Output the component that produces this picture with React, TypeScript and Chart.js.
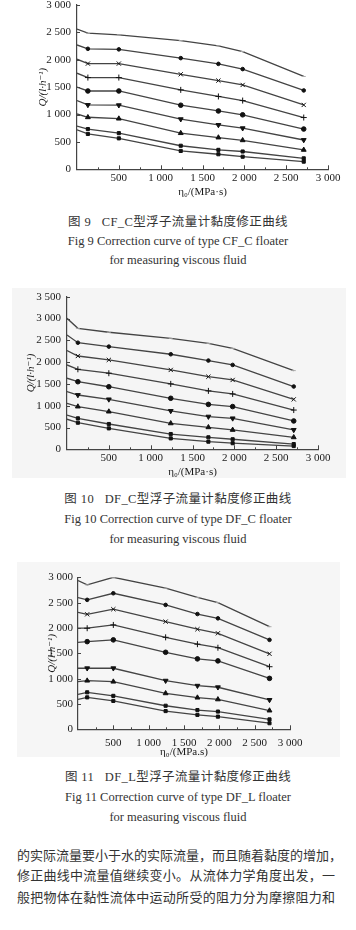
import React, { useEffect, useRef } from 'react';
import { Chart, registerables } from 'chart.js';

Chart.register(...registerables);

// Viscosity η0 (MPa·s) at which flow was measured
const VISCOSITY = [0, 130, 500, 1240, 1690, 1980, 2710];
const X_TICKS = [500, 1000, 1500, 2000, 2500, 3000];

// Fig 9 — CF_C floater, flow Q (l/h)
const CFC_S1 = [2560, 2485, 2455, 2350, 2255, 2150, 1695];
const CFC_S2 = [2270, 2200, 2190, 2030, 1925, 1830, 1440];
const CFC_S3 = [2010, 1930, 1930, 1735, 1620, 1540, 1175];
const CFC_S4 = [1755, 1675, 1675, 1450, 1330, 1255, 945];
const CFC_S5 = [1500, 1430, 1430, 1170, 1065, 995, 735];
const CFC_S6 = [1255, 1175, 1170, 915, 810, 750, 535];
const CFC_S7 = [1010, 950, 925, 660, 580, 530, 355];
const CFC_S8 = [790, 735, 660, 430, 355, 325, 200];
const CFC_S9 = [720, 645, 565, 335, 275, 230, 140];

// Fig 10 — DF_C floater
const DFC_S1 = [3005, 2775, 2685, 2545, 2430, 2315, 1805];
const DFC_S2 = [2620, 2445, 2355, 2180, 2035, 1935, 1440];
const DFC_S3 = [2265, 2140, 2050, 1820, 1665, 1590, 1145];
const DFC_S4 = [1935, 1835, 1745, 1500, 1340, 1270, 900];
const DFC_S5 = [1630, 1550, 1435, 1170, 1030, 980, 650];
const DFC_S6 = [1325, 1245, 1145, 880, 750, 710, 445];
const DFC_S7 = [1055, 980, 865, 595, 505, 445, 275];
const DFC_S8 = [785, 710, 580, 350, 275, 230, 120];
const DFC_S9 = [690, 610, 480, 250, 175, 140, 75];

// Fig 11 — DF_L floater
const DFL_S1 = [2935, 2850, 3000, 2785, 2605, 2500, 2025];
const DFL_S2 = [2600, 2555, 2685, 2455, 2275, 2190, 1765];
const DFL_S3 = [2310, 2270, 2370, 2125, 1975, 1895, 1490];
const DFL_S4 = [1995, 1995, 2060, 1815, 1680, 1610, 1235];
const DFL_S5 = [1715, 1730, 1765, 1520, 1390, 1350, 1005];
const DFL_S6 = [1205, 1205, 1205, 960, 860, 830, 580];
const DFL_S7 = [940, 960, 940, 710, 625, 590, 370];
const DFL_S8 = [690, 730, 660, 465, 380, 350, 195];
const DFL_S9 = [590, 630, 560, 360, 285, 250, 120];

const MARKERS = ['line', 'circle', 'crossRot', 'cross', 'circle', 'triangle', 'triangle', 'rect', 'rect'];
const RADII = [2, 1.8, 3, 3, 2.3, 2.8, 2.8, 2.2, 2.2];

const SERIF = '"Liberation Serif", "DejaVu Serif", serif';
const CJK = '"Liberation Serif", "Noto Sans CJK SC", serif';

function formatNum(v: number): string {
  if (v >= 1000) {
    const t = Math.floor(v / 1000);
    const r = v % 1000;
    return `${t} ${String(r).padStart(3, '0')}`;
  }
  return String(v);
}

const inwardTicks = {
  id: 'inwardTicks',
  afterDraw(chart: any) {
    const { ctx, chartArea, scales } = chart;
    const x = scales.x;
    const y = scales.y;
    ctx.save();
    ctx.strokeStyle = '#444';
    ctx.lineWidth = 1;
    ctx.beginPath();
    for (let v = 250; v <= x.max; v += 250) {
      const px = Math.round(x.getPixelForValue(v)) + 0.5;
      const len = v % 500 === 0 ? 4 : 2;
      ctx.moveTo(px, chartArea.bottom);
      ctx.lineTo(px, chartArea.bottom - len);
    }
    for (let v = 500; v <= y.max; v += 500) {
      const py = Math.round(y.getPixelForValue(v)) + 0.5;
      ctx.moveTo(chartArea.left, py);
      ctx.lineTo(chartArea.left + 3, py);
    }
    ctx.stroke();
    ctx.restore();
  },
};

type Area = { left: number; right: number; top: number; bottom: number };

interface PlotProps {
  top: number;
  height: number;
  area: Area;
  yMax: number;
  series: number[][];
  yTickPad: number;
  xTickPad: number;
  yTitlePad: number;
  xTitle: string;
}

const W = 356;

function Plot({ top, height, area, yMax, series, yTickPad, xTickPad, yTitlePad, xTitle }: PlotProps) {
  const ref = useRef<HTMLCanvasElement>(null);
  useEffect(() => {
    if (!ref.current) return;
    const font = { family: SERIF, size: 11 };
    const yTicks: number[] = [];
    for (let v = 0; v <= yMax; v += 500) yTicks.push(v);
    const chart = new Chart(ref.current, {
      type: 'line',
      data: {
        datasets: series.map((vals, i) => ({
          data: VISCOSITY.map((x, j) => ({ x, y: vals[j] })),
          borderColor: '#444',
          borderWidth: 1.3,
          pointStyle: MARKERS[i] as any,
          pointRadius: VISCOSITY.map((_, j) => (j === 0 ? 0 : RADII[i])),
          pointRotation: i === 5 ? 180 : 0,
          pointBackgroundColor: '#111',
          pointBorderColor: i === 0 ? '#aaa' : '#111',
          pointBorderWidth: 1,
          tension: 0,
          fill: false,
        })),
      },
      options: {
        animation: false,
        responsive: false,
        maintainAspectRatio: false,
        layout: { padding: { left: 0, right: W - area.right, top: area.top, bottom: 0 } },
        plugins: { legend: { display: false }, tooltip: { enabled: false } },
        scales: {
          x: {
            type: 'linear',
            min: 0,
            max: 3000,
            afterBuildTicks: (s: any) => {
              s.ticks = X_TICKS.map((value) => ({ value }));
            },
            afterFit: (s: any) => {
              s.height = height - area.bottom;
            },
            grid: { display: true, drawOnChartArea: false, drawTicks: false },
            border: { display: true, color: '#444', width: 1.2 },
            ticks: {
              autoSkip: false,
              maxRotation: 0,
              padding: xTickPad,
              font,
              color: '#1a1a1a',
              callback: (v: any) => formatNum(Number(v)),
            },
            title: {
              display: true,
              text: xTitle,
              font,
              color: '#1a1a1a',
              padding: { top: 0, bottom: 1.7 },
            },
          },
          y: {
            type: 'linear',
            min: 0,
            max: yMax,
            afterBuildTicks: (s: any) => {
              s.ticks = yTicks.map((value) => ({ value }));
            },
            afterFit: (s: any) => {
              s.width = area.left;
            },
            grid: { display: true, drawOnChartArea: false, drawTicks: false },
            border: { display: true, color: '#444', width: 1.2 },
            ticks: {
              autoSkip: false,
              padding: yTickPad,
              font,
              color: '#1a1a1a',
              callback: (v: any) => formatNum(Number(v)),
            },
            title: {
              display: true,
              text: 'Q/(l·h⁻¹)',
              font: { family: SERIF, size: 11, style: 'italic' },
              color: '#1a1a1a',
              padding: { top: yTitlePad, bottom: 0 },
            },
          },
        },
      },
      plugins: [inwardTicks],
    } as any);
    return () => chart.destroy();
  }, []);
  return (
    <canvas
      ref={ref}
      width={W}
      height={height}
      style={{ position: 'absolute', left: 0, top, width: W, height }}
    />
  );
}

const captionStyle = (center: number, family: string, size: number, spacing = 0): React.CSSProperties => ({
  position: 'absolute',
  left: 0,
  width: W,
  top: center - 8,
  height: 16,
  lineHeight: '16px',
  textAlign: 'center',
  fontFamily: family,
  fontSize: size,
  letterSpacing: spacing,
  color: '#333',
  whiteSpace: 'nowrap',
});

const paraLine = (top: number): React.CSSProperties => ({
  position: 'absolute',
  left: 17,
  width: 318,
  top,
  height: 20,
  lineHeight: '20px',
  fontFamily: '"Noto Sans CJK SC", sans-serif',
  fontSize: 13,
  color: '#333',
  textAlign: 'justify',
  textAlignLast: 'justify' as any,
  whiteSpace: 'nowrap',
});

export default function App() {
  return (
    <div style={{ position: 'absolute', left: 0, top: 0, width: W, height: 930, background: '#fff', overflow: 'hidden' }}>
      <div style={{ position: 'absolute', left: 12, top: 288, width: 334, height: 190, background: '#f5f5f5' }} />
      <div style={{ position: 'absolute', left: 17, top: 562, width: 323, height: 195, background: '#f6f6f6' }} />

      <Plot
        top={-10}
        height={210}
        area={{ left: 77, right: 328, top: 15, bottom: 179.3 }}
        yMax={3000}
        series={[CFC_S1, CFC_S2, CFC_S3, CFC_S4, CFC_S5, CFC_S6, CFC_S7, CFC_S8, CFC_S9]}
        yTickPad={6}
        xTickPad={2}
        yTitlePad={37}
        xTitle="η₀/(MPa·s)"
      />
      <div style={captionStyle(222, CJK, 12.5, 0.4)}>图 9&nbsp;&nbsp;&nbsp;CF_C型浮子流量计黏度修正曲线</div>
      <div style={captionStyle(241, SERIF, 12.5)}>Fig 9 Correction curve of type CF_C floater</div>
      <div style={captionStyle(260, SERIF, 12.5)}>for measuring viscous fluid</div>

      <Plot
        top={280}
        height={200}
        area={{ left: 67, right: 318, top: 16.7, bottom: 169.3 }}
        yMax={3500}
        series={[DFC_S1, DFC_S2, DFC_S3, DFC_S4, DFC_S5, DFC_S6, DFC_S7, DFC_S8, DFC_S9]}
        yTickPad={6}
        xTickPad={2}
        yTitlePad={25}
        xTitle="η₀/(MPa·s)"
      />
      <div style={captionStyle(499, CJK, 12.5, 0.4)}>图 10&nbsp;&nbsp;&nbsp;DF_C型浮子流量计黏度修正曲线</div>
      <div style={captionStyle(519, SERIF, 12.5)}>Fig 10 Correction curve of type DF_C floater</div>
      <div style={captionStyle(539, SERIF, 12.5)}>for measuring viscous fluid</div>

      <Plot
        top={560}
        height={200}
        area={{ left: 78, right: 290, top: 17.3, bottom: 169.3 }}
        yMax={3000}
        series={[DFL_S1, DFL_S2, DFL_S3, DFL_S4, DFL_S5, DFL_S6, DFL_S7, DFL_S8, DFL_S9]}
        yTickPad={5}
        xTickPad={7}
        yTitlePad={46}
        xTitle="η₀/(MPa.s)"
      />
      <div style={captionStyle(777, CJK, 12.5, 0.4)}>图 11&nbsp;&nbsp;&nbsp;DF_L型浮子流量计黏度修正曲线</div>
      <div style={captionStyle(797, SERIF, 12.5)}>Fig 11 Correction curve of type DF_L floater</div>
      <div style={captionStyle(817, SERIF, 12.5)}>for measuring viscous fluid</div>

      <div style={paraLine(845)}>的实际流量要小于水的实际流量，而且随着黏度的增加，</div>
      <div style={paraLine(865)}>修正曲线中流量值继续变小。从流体力学角度出发，一</div>
      <div style={paraLine(887)}>般把物体在黏性流体中运动所受的阻力分为摩擦阻力和</div>
    </div>
  );
}
